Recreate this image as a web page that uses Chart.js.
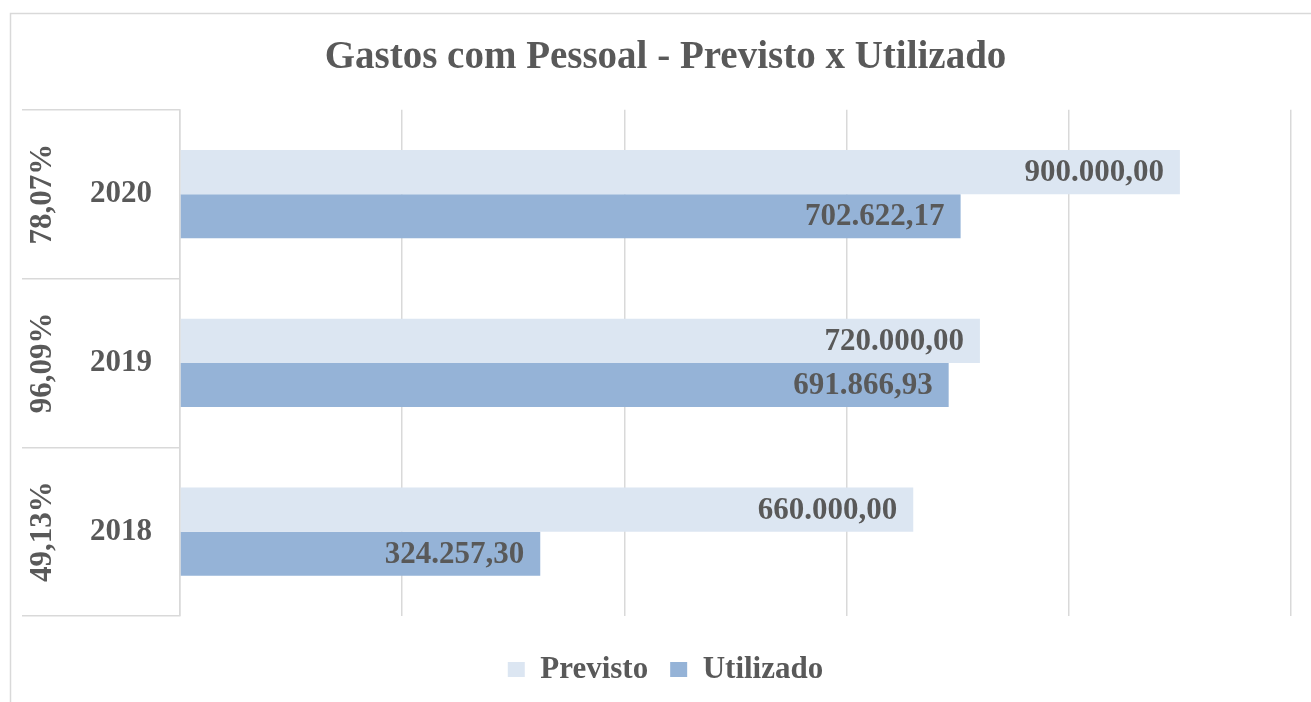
<!DOCTYPE html>
<html>
<head>
<meta charset="utf-8">
<script src="https://cdn.jsdelivr.net/npm/chart.js@4/dist/chart.umd.min.js"></script>
<style>
  html, body { margin: 0; padding: 0; background: #ffffff; }
  #wrap { width: 1311px; height: 702px; position: relative; }
</style>
</head>
<body>
<div id="wrap"><canvas id="c" width="1311" height="702"></canvas></div>
<script>
const years = ['2018', '2019', '2020'];
const percentLabels = ['49,13%', '96,09%', '78,07%'];
const previsto = [660000.00, 720000.00, 900000.00];
const utilizado = [324257.30, 691866.93, 702622.17];
const seriesNames = ['Previsto', 'Utilizado'];
const chartTitle = 'Gastos com Pessoal - Previsto x Utilizado';

const TEXT = '#595959';
const GRID = '#d9d9d9';
const FONT = '"Liberation Serif", "Times New Roman", serif';

function fmtBR(v) {
  const parts = v.toFixed(2).split('.');
  const intPart = parts[0].replace(/\B(?=(\d{3})+(?!\d))/g, '.');
  return intPart + ',' + parts[1];
}

const framePlugin = {
  id: 'frame',
  beforeDraw(chart) {
    const ctx = chart.ctx;
    ctx.save();
    ctx.strokeStyle = GRID;
    ctx.lineWidth = 1.5;
    ctx.beginPath();
    ctx.moveTo(10.5, 702);
    ctx.lineTo(10.5, 13.5);
    ctx.lineTo(1311, 13.5);
    ctx.stroke();
    ctx.restore();
  }
};

const labelsPlugin = {
  id: 'valueLabels',
  afterDatasetsDraw(chart) {
    const ctx = chart.ctx;
    ctx.save();
    ctx.font = 'bold 31px ' + FONT;
    ctx.fillStyle = TEXT;
    ctx.textAlign = 'right';
    ctx.textBaseline = 'middle';
    chart.data.datasets.forEach((ds, di) => {
      const meta = chart.getDatasetMeta(di);
      meta.data.forEach((el, i) => {
        ctx.fillText(fmtBR(ds.data[i]), el.x - 16, el.y + 1);
      });
    });
    // outer category level (rotated percentages)
    const ys = chart.scales.y;
    ctx.textAlign = 'center';
    percentLabels.forEach((t, i) => {
      const py = ys.getPixelForValue(i);
      ctx.save();
      ctx.translate(43, py);
      ctx.rotate(-Math.PI / 2);
      ctx.fillText(t, 0, 0);
      ctx.restore();
    });
    ctx.restore();
  }
};

new Chart(document.getElementById('c'), {
  type: 'bar',
  data: {
    labels: years,
    datasets: [
      { label: seriesNames[0], data: previsto, backgroundColor: '#dce6f2', categoryPercentage: 0.524, barPercentage: 1.0 },
      { label: seriesNames[1], data: utilizado, backgroundColor: '#95b3d7', categoryPercentage: 0.524, barPercentage: 1.0 }
    ]
  },
  options: {
    indexAxis: 'y',
    responsive: false,
    animation: false,
    devicePixelRatio: 1,
    layout: { padding: { left: 20, right: 0, top: 0, bottom: 7 } },
    scales: {
      x: {
        min: 0, max: 1000000,
        ticks: { display: false, stepSize: 200000 },
        grid: { color: GRID, lineWidth: 1.5, drawTicks: false },
        border: { display: false },
        afterFit(s) { s.height = 16; }
      },
      y: {
        reverse: true,
        offset: true,
        grid: { drawOnChartArea: false, offset: true, color: GRID, lineWidth: 1.5, tickLength: 158 },
        border: { display: true, color: GRID, width: 1.5 },
        ticks: { color: TEXT, font: { family: FONT, size: 31, weight: 'bold' }, padding: -130 },
        afterFit(s) { s.width = 160; }
      },
      y2: {
        type: 'linear',
        position: 'right',
        display: true,
        ticks: { display: false },
        grid: { display: false },
        border: { display: false },
        afterFit(s) { s.width = 20; }
      }
    },
    plugins: {
      title: {
        display: true,
        text: chartTitle,
        color: TEXT,
        font: { family: FONT, size: 39, weight: 'bold' },
        padding: { top: 35, bottom: 28 }
      },
      legend: {
        position: 'bottom',
        labels: {
          color: TEXT,
          font: { family: FONT, size: 31, weight: 'bold' },
          boxWidth: 17,
          boxHeight: 15,
          padding: 22
        }
      },
      tooltip: { enabled: false }
    }
  },
  plugins: [framePlugin, labelsPlugin]
});
</script>
</body>
</html>
